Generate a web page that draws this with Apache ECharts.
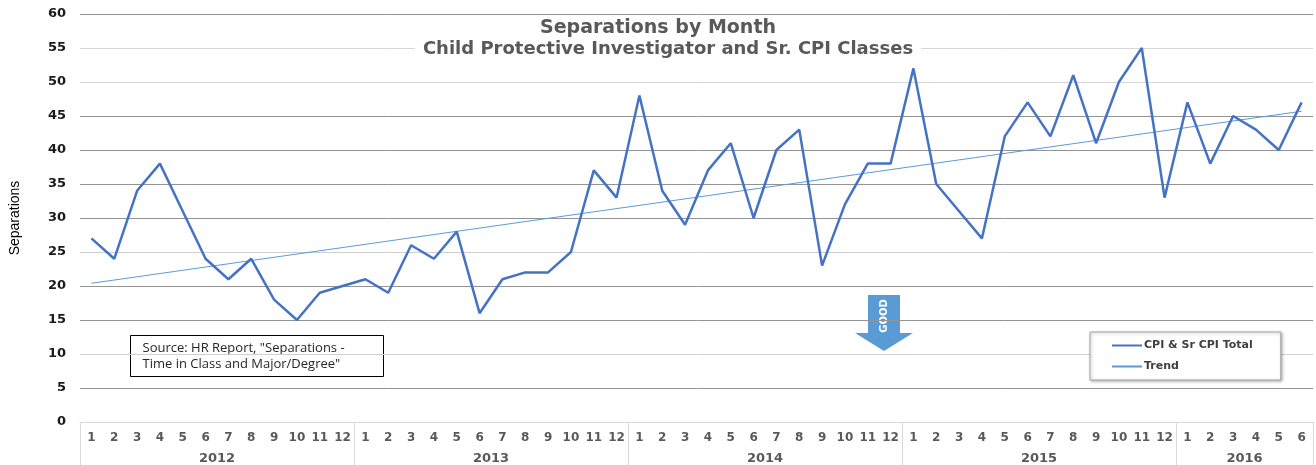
<!DOCTYPE html>
<html>
<head>
<meta charset="utf-8">
<title>Separations by Month</title>
<script src="https://cdn.jsdelivr.net/npm/echarts@6/dist/echarts.min.js"></script>
<style>
  html, body { margin: 0; padding: 0; background: #fff; }
  #chart { width: 1316px; height: 465px; }
</style>
</head>
<body>
<div id="chart"></div>
<script>
// years shown on the axis and how many months each one has
const years = ["2012", "2013", "2014", "2015", "2016"];
const monthsPerYear = [12, 12, 12, 12, 6];

// separations per month, Jan 2012 .. Jun 2016
const separations = [
  27, 24, 34, 38, 31, 24, 21, 24, 18, 15, 19, 20,
  21, 19, 26, 24, 28, 16, 21, 22, 22, 25, 37, 33,
  48, 34, 29, 37, 41, 30, 40, 43, 23, 32, 38, 38,
  52, 35, 31, 27, 42, 47, 42, 51, 41, 50, 55, 33,
  47, 38, 45, 43, 40, 47
];

// trend line end points (first month, last month)
const trendEnds = [20.4, 45.7];

const yTicks = [0, 5, 10, 15, 20, 25, 30, 35, 40, 45, 50, 55, 60];

// month labels, one per point
const monthLabels = [];
monthsPerYear.forEach(n => {
  for (let m = 1; m <= n; m++) monthLabels.push(String(m));
});

// year axis: boundaries at 0..total, year name at the middle of its span
const total = monthLabels.length;
const yearSlots = new Array(total + 1).fill("");
const yearBounds = [0];
let pos = 0;
monthsPerYear.forEach((n, i) => {
  yearSlots[pos + n / 2] = years[i];
  pos += n;
  yearBounds.push(pos);
});

const trendData = monthLabels.map((_, i) =>
  i === 0 ? trendEnds[0] : i === total - 1 ? trendEnds[1] : null
);

const boldFont = "DejaVu Sans";

const chart = echarts.init(document.getElementById("chart"));

const option = {
  animation: false,
  title: [
    {
      text: "Separations by Month",
      left: 652,
      top: 19,
      textAlign: "center",
      padding: [0, 6],
      backgroundColor: "#fff",
      textStyle: {
        fontFamily: boldFont,
        fontSize: 19,
        fontWeight: "bold",
        color: "#595959"
      }
    },
    {
      text: "Child Protective Investigator and Sr. CPI Classes",
      left: 660,
      top: 40,
      textAlign: "center",
      padding: [0, 8],
      backgroundColor: "#fff",
      textStyle: {
        fontFamily: boldFont,
        fontSize: 18,
        fontWeight: "bold",
        color: "#595959"
      }
    }
  ],
  legend: {
    orient: "vertical",
    left: 1090,
    top: 332,
    padding: [8, 28, 8, 22],
    itemGap: 10,
    itemWidth: 30,
    itemHeight: 2,
    icon: "rect",
    backgroundColor: "#fff",
    borderColor: "#a6a6a6",
    borderWidth: 1,
    shadowColor: "rgba(0,0,0,0.3)",
    shadowBlur: 3,
    shadowOffsetX: 1,
    shadowOffsetY: 1,
    textStyle: {
      fontFamily: boldFont,
      fontSize: 11,
      fontWeight: "bold",
      color: "#404040",
      padding: [0, 0, 0, -3]
    },
    data: ["CPI & Sr CPI Total", "Trend"]
  },
  grid: {
    left: 80,
    right: -6,
    top: 14,
    bottom: 43
  },
  xAxis: [
    {
      type: "category",
      data: monthLabels,
      boundaryGap: true,
      axisLine: { show: true, lineStyle: { color: "#d9d9d9", width: 1 } },
      axisTick: { show: false },
      axisLabel: {
        interval: 0,
        margin: 10,
        fontFamily: boldFont,
        fontSize: 12,
        fontWeight: "bold",
        color: "#595959"
      },
      splitLine: { show: false }
    },
    {
      type: "category",
      data: yearSlots,
      boundaryGap: false,
      position: "bottom",
      axisLine: { show: false },
      axisTick: {
        show: true,
        interval: idx => yearBounds.indexOf(idx) >= 0,
        length: 44,
        lineStyle: { color: "#d9d9d9", width: 1 }
      },
      axisLabel: {
        interval: 0,
        margin: 30,
        fontFamily: boldFont,
        fontSize: 13,
        fontWeight: "bold",
        color: "#595959"
      },
      splitLine: { show: false }
    }
  ],
  yAxis: {
    type: "value",
    min: yTicks[0],
    max: yTicks[yTicks.length - 1],
    interval: 5,
    name: "Separations",
    nameLocation: "middle",
    nameGap: 58,
    nameTextStyle: {
      fontFamily: "Liberation Sans, Arial",
      fontSize: 14,
      color: "#000"
    },
    axisLine: { show: false },
    axisTick: { show: false },
    axisLabel: {
      margin: 14,
      fontFamily: boldFont,
      fontSize: 13,
      fontWeight: "bold",
      color: "#1a1a1a"
    },
    splitLine: {
      show: true,
      lineStyle: {
        color: ["#d9d9d9", "#939393", "#d0d0d0", "#939393", "#939393", "#cfcfcf",
                "#939393", "#939393", "#939393", "#939393", "#d6d6d6", "#d6d6d6", "#939393"],
        width: 1
      }
    }
  },
  series: [
    {
      name: "CPI & Sr CPI Total",
      type: "line",
      data: separations,
      symbol: "none",
      z: 3,
      lineStyle: { color: "#4472c4", width: 2.5 },
      itemStyle: { color: "#4472c4" }
    },
    {
      name: "Trend",
      type: "line",
      data: trendData,
      connectNulls: true,
      symbol: "none",
      z: 2,
      lineStyle: { color: "#5b9bd5", width: 1 },
      itemStyle: { color: "#5b9bd5" }
    }
  ],
  graphic: [
    {
      type: "group",
      left: 130,
      top: 335,
      children: [
        {
          type: "rect",
          shape: { x: 0, y: 0, width: 253, height: 41 },
          style: { fill: "#fff", stroke: "#000", lineWidth: 1 }
        },
        {
          type: "text",
          x: 12,
          y: 5,
          style: {
            text: "Source: HR Report, \"Separations -\nTime in Class and Major/Degree\"",
            font: "13px 'Open Sans', 'Liberation Sans', sans-serif",
            lineHeight: 16,
            fill: "#262626"
          }
        }
      ]
    },
    {
      type: "group",
      left: 855,
      top: 295,
      children: [
        {
          type: "polygon",
          shape: {
            points: [[13, 0], [45, 0], [45, 38], [58, 38], [29, 56], [0, 38], [13, 38]]
          },
          style: { fill: "#5b9bd5" }
        },
        {
          type: "text",
          x: 29,
          y: 21,
          rotation: Math.PI / 2,
          style: {
            text: "GOOD",
            font: "bold 10px 'DejaVu Sans', Arial",
            fill: "#fff",
            align: "center",
            verticalAlign: "middle"
          }
        }
      ]
    }
  ]
};

chart.setOption(option);
</script>
</body>
</html>
